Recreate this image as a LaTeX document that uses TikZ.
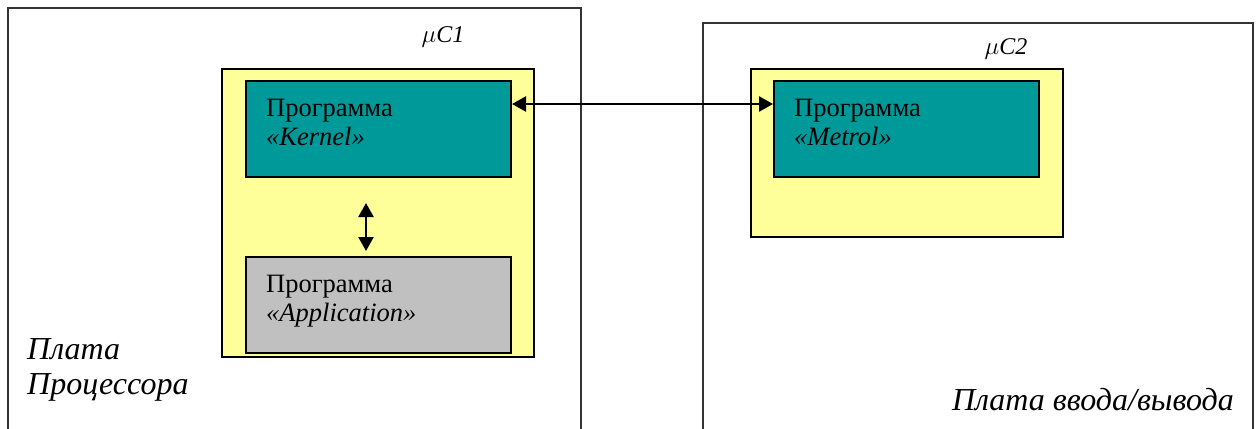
\documentclass[tikz,border=0pt]{standalone}
\usepackage{fontspec}
\setmainfont{Liberation Serif}
\usetikzlibrary{arrows.meta,positioning,calc}
\definecolor{chipyellow}{HTML}{FFFF99}
\definecolor{progteal}{HTML}{009999}
\definecolor{proggray}{HTML}{C0C0C0}
\tikzset{
  board/.style={draw=black!80, line width=1.4pt, fill=none},
  chip/.style={draw=black, line width=2pt, fill=chipyellow},
  prog/.style={draw=black, line width=2pt},
  txt/.style={inner sep=0pt, anchor=base west, font=\fontsize{26.5}{30}\selectfont},
  lbl/.style={inner sep=0pt, font=\fontsize{32}{38}\selectfont\itshape},
  chiplbl/.style={inner sep=0pt, anchor=base, font=\fontsize{24}{28}\selectfont\itshape},
  link/.style={line width=2.5pt, {Triangle[length=14pt,width=15pt]}-{Triangle[length=14pt,width=15pt]}}
}
\begin{document}
\begin{tikzpicture}[x=1pt,y=-1pt]
\useasboundingbox (0,0) rectangle (1257,428);
\clip (0,0) rectangle (1257,428);
\fill[white] (0,0) rectangle (1257,428);
% boards
\draw[board] (8,440) -- (8,8) -- (581,8) -- (581,440);
\draw[board] (703,440) -- (703,23) -- (1253,23) -- (1253,440);
\node[lbl, anchor=base west] (b1a) at (27,359) {Плата};
\node[lbl, anchor=base west] (b1b) at (27,394) {Процессора};
\node[lbl, anchor=base east] (b2) at (1234,410) {Плата ввода/вывода};
% chips
\node[chip, minimum width=312pt, minimum height=288pt, anchor=north west, inner sep=0pt] (mc1) at (221,68) {};
\node[chip, minimum width=312pt, minimum height=168pt, anchor=north west, inner sep=0pt] (mc2) at (750,68) {};
\node[chiplbl] (mc1l) at (443,43) {$\mu$C1};
\node[chiplbl] (mc2l) at (1006,55) {$\mu$C2};
% programs
\node[prog, fill=progteal, minimum width=265pt, minimum height=96pt, anchor=north west, inner sep=0pt] (kernel) at (245,80) {};
\node[prog, fill=proggray, minimum width=265pt, minimum height=96pt, anchor=north west, inner sep=0pt] (app) at (245,256) {};
\node[prog, fill=progteal, minimum width=265pt, minimum height=96pt, anchor=north west, inner sep=0pt] (metrol) at (773,80) {};
\node[txt] (kt1) at (266,116) {Программа};
\node[txt] (kt2) at (266,145) {\itshape «Kernel»};
\node[txt] (at1) at (266,292) {Программа};
\node[txt] (at2) at (266,321) {\itshape «Application»};
\node[txt] (mt1) at (794,116) {Программа};
\node[txt] (mt2) at (794,145) {\itshape «Metrol»};
% connectors
\coordinate (va) at (366,203);
\coordinate (vb) at (366,251);
\draw[link] (va) -- (vb);
\draw[link] (kernel.east |- 0,104) -- (metrol.west |- 0,104);
\end{tikzpicture}
\end{document}
